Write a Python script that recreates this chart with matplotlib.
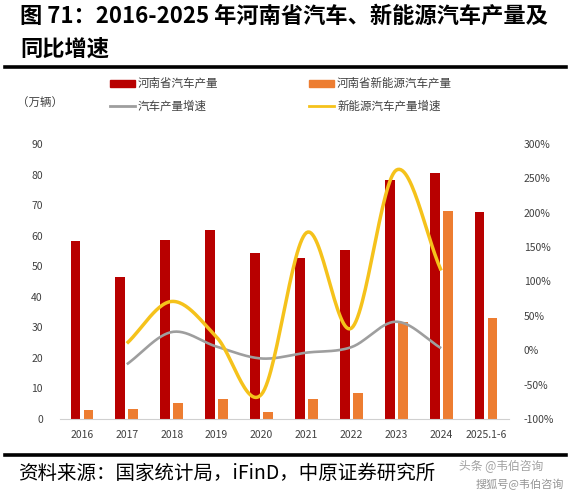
import numpy as np
import matplotlib as mpl
mpl.use('agg')
import matplotlib.pyplot as plt

plt.rcParams['font.family'] = ['Noto Sans CJK SC', 'DejaVu Sans']

# data
years = ['2016', '2017', '2018', '2019', '2020', '2021', '2022', '2023', '2024', '2025.1-6']
auto_output = [58.3, 46.4, 58.7, 61.8, 54.4, 52.7, 55.3, 78.1, 80.5, 67.8]
nev_output = [2.9, 3.2, 5.4, 6.4, 2.3, 6.4, 8.6, 31.8, 68.1, 33.1]
# growth lines run 2017..2024
growth_years = years[1:9]
auto_growth = [-20.4, 26.5, 5.3, -12.0, -3.5, 4.5, 41.5, 3.0]
nev_growth = [10, 71, 19, -64, 171, 32, 262, 116]

left_ticks = [0, 10, 20, 30, 40, 50, 60, 70, 80, 90]
right_ticks = [-100, -50, 0, 50, 100, 150, 200, 250, 300]

RED = '#B80000'
ORANGE = '#ED7D31'
GRAY = '#9E9E9E'
YELLOW = '#F5C21B'


def smooth(x, y, n = 30):

    """ Catmull-Rom curve through the points, like Excel's smoothed line """

    x = np.asarray(x, float)
    y = np.asarray(y, float)
    px = np.concatenate([[2*x[0] - x[1]], x, [2*x[-1] - x[-2]]])
    py = np.concatenate([[2*y[0] - y[1]], y, [2*y[-1] - y[-2]]])
    t = np.linspace(0, 1, n)
    xs, ys = [], []
    for i in range(1, len(px) - 2):
        for p, out in ((px, xs), (py, ys)):
            p0, p1, p2, p3 = p[i-1], p[i], p[i+1], p[i+2]
            out.append(0.5*((2*p1) + (-p0 + p2)*t + (2*p0 - 5*p1 + 4*p2 - p3)*t**2
                            + (-p0 + 3*p1 - 3*p2 + p3)*t**3))
    return np.concatenate(xs), np.concatenate(ys)


W, H = 578, 500
fig = plt.figure(figsize = (W/100, H/100), dpi = 100)
fig.patch.set_facecolor('white')

ax = fig.add_axes([59.5/W, 1 - 419/H, 449/W, 275/H])
ax2 = ax.twinx()

x = np.arange(len(years))
bw = 0.22
ax.bar(x - 0.145, auto_output, bw, color = RED, zorder = 2)
ax.bar(x + 0.145, nev_output, bw, color = ORANGE, zorder = 2)

gx = np.arange(1, 1 + len(growth_years))
ax2.plot(*smooth(gx, auto_growth), color = GRAY, lw = 1.9, solid_capstyle = 'butt', zorder = 3)
ax2.plot(*smooth(gx, nev_growth), color = YELLOW, lw = 2.5, solid_capstyle = 'butt', zorder = 4)

ax.set_xlim(-0.5, len(years) - 0.5)
ax.set_ylim(0, 90)
ax2.set_ylim(-100, 300)
ax.set_yticks(left_ticks)
ax.set_yticklabels([str(v) for v in left_ticks])
ax2.set_yticks(right_ticks)
ax2.set_yticklabels(['{}%'.format(v) for v in right_ticks])
ax.set_xticks(x)
ax.set_xticklabels(years)

for a in (ax, ax2):
    for s in ('top', 'left', 'right', 'bottom'):
        a.spines[s].set_visible(False)
    a.tick_params(length = 0, labelsize = 7.5, colors = '#404040')
ax.spines['bottom'].set_visible(True)
ax.spines['bottom'].set_color('#D0D0D0')
ax.tick_params(axis = 'y', pad = 12)
ax.tick_params(axis = 'x', pad = 8)
ax2.tick_params(axis = 'y', pad = 11)

# title
fig.text(20/W, 1 - 16/H, '图 71：2016-2025 年河南省汽车、新能源汽车产量及',
         fontsize = 16, fontweight = 'bold', va = 'center', ha = 'left')
fig.text(20/W, 1 - 49/H, '同比增速', fontsize = 16, fontweight = 'bold',
         va = 'center', ha = 'left')
fig.add_artist(plt.Line2D([5/W, 566/W], [1 - 67/H]*2, color = 'black', lw = 2.6))
fig.add_artist(plt.Line2D([5/W, 566/W], [1 - 455/H]*2, color = 'black', lw = 2.6))

# legend drawn by hand to match the two-row layout
legend_items = [
    ('河南省汽车产量', RED, 'patch', 110, 83),
    ('河南省新能源汽车产量', ORANGE, 'patch', 309, 83),
    ('汽车产量增速', GRAY, 'line', 110, 106),
    ('新能源汽车产量增速', YELLOW, 'line', 309, 106),
]
for label, color, kind, lx, ly in legend_items:
    if kind == 'patch':
        fig.add_artist(plt.Rectangle((lx/W, 1 - (ly + 3.5)/H), 25/W, 7/H,
                                     color = color, transform = fig.transFigure))
    else:
        fig.add_artist(plt.Line2D([lx/W, (lx + 25)/W], [1 - ly/H]*2, color = color, lw = 2))
    fig.text((lx + 28)/W, 1 - ly/H, label, fontsize = 8.3, color = '#404040',
             va = 'center', ha = 'left')

fig.text(17/W, 1 - 102/H, '（万辆）', fontsize = 8.3, color = '#404040',
         va = 'center', ha = 'left')

# source line
fig.text(18/W, 1 - 473/H, '资料来源：国家统计局，iFinD，中原证券研究所',
         fontsize = 14, va = 'center', ha = 'left')
fig.text(459/W, 1 - 466/H, '头条 @韦伯咨询', fontsize = 8.5, color = '#8A8A8A',
         alpha = 0.8, va = 'center', ha = 'left')
fig.text(476/W, 1 - 484/H, '搜狐号@韦伯咨询', fontsize = 8, color = '#7A7A7A',
         alpha = 0.8, va = 'center', ha = 'left')

fig.savefig('out.png', dpi = 100, facecolor = 'white')
